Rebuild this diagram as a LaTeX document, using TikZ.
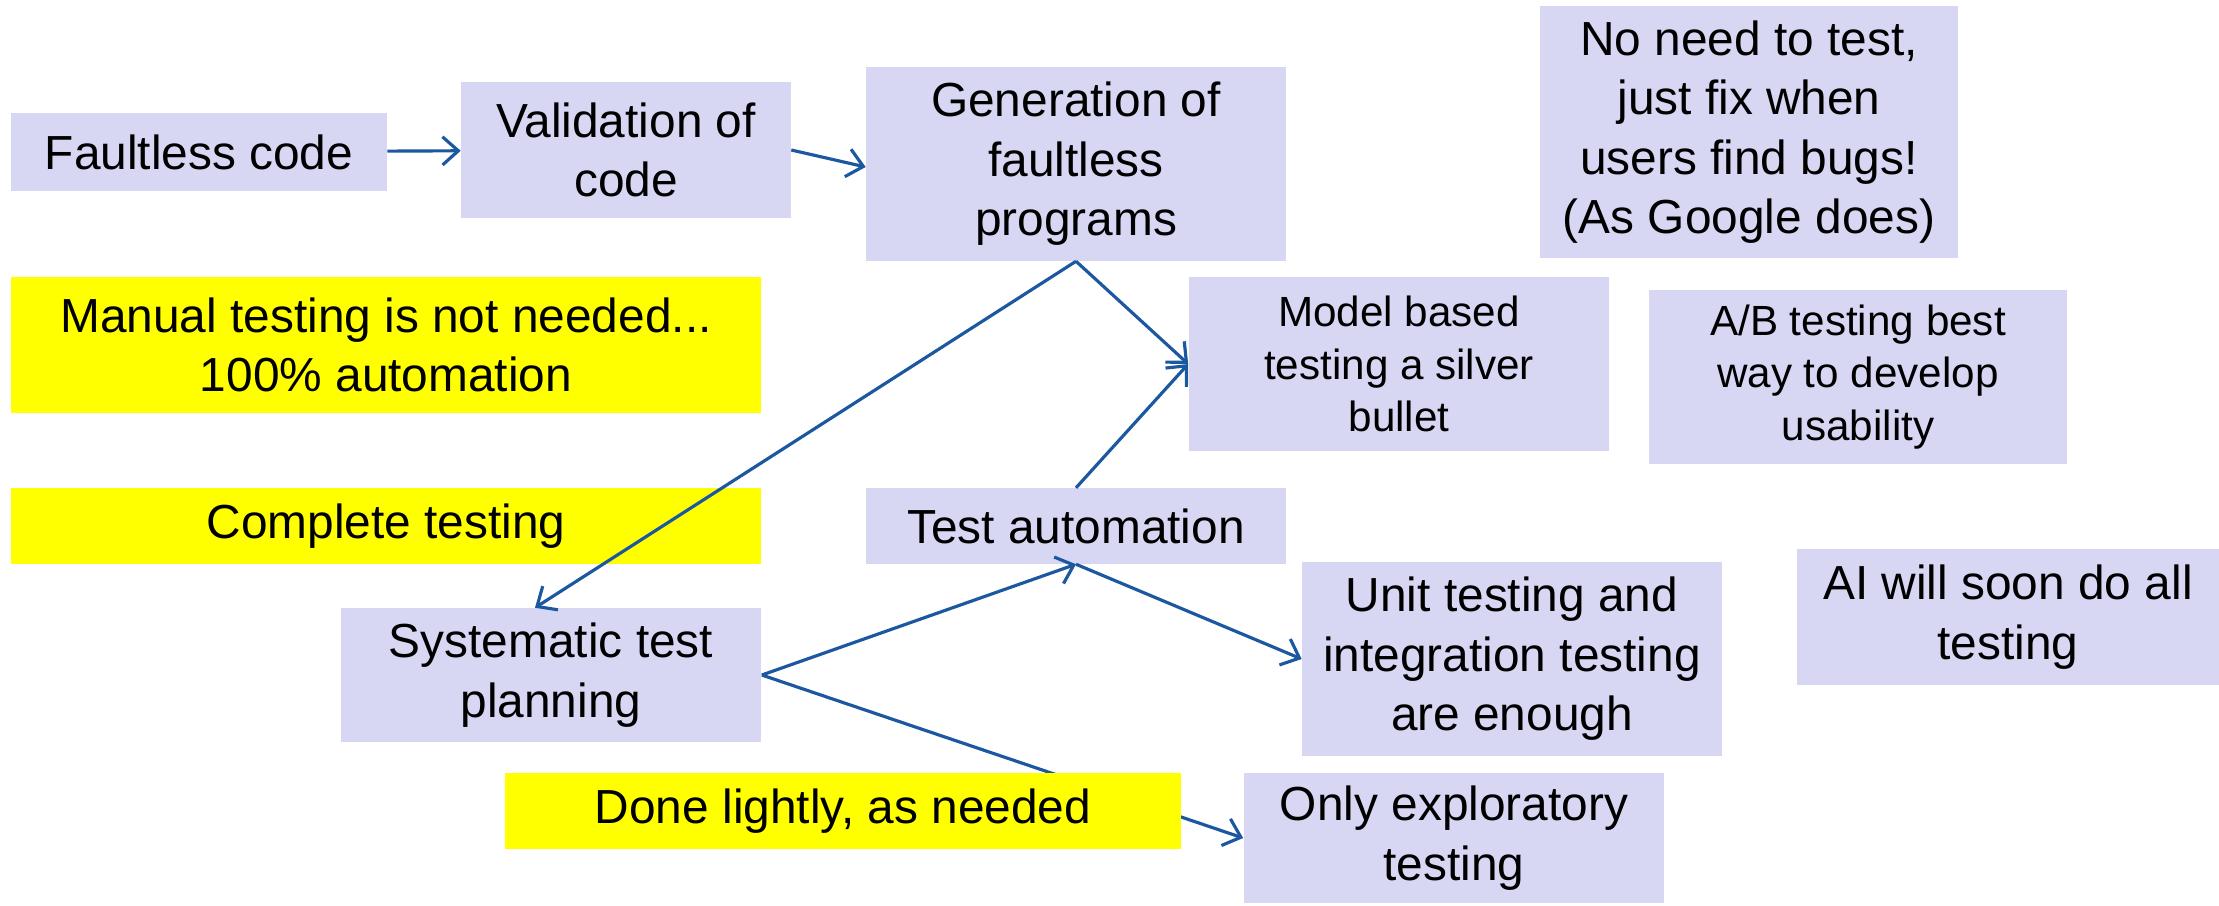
\documentclass[tikz,border=0pt]{standalone}
\usepackage{fontspec}
\setmainfont{Liberation Sans}
\usepackage{tikz}
\usetikzlibrary{arrows.meta}
\usetikzlibrary{positioning}

\definecolor{lav}{RGB}{215,215,244}
\definecolor{hiyellow}{RGB}{255,255,0}
\definecolor{arrowblue}{RGB}{28,88,160}

\tikzset{
    box/.style={fill=lav, inner sep=0pt, align=center, font=\fontsize{13.6pt}{16.9pt}\selectfont},
    smallbox/.style={box, font=\fontsize{12pt}{15pt}\selectfont},
    hibox/.style={box, fill=hiyellow},
    link/.style={draw=arrowblue, line width=0.9pt, -{Straight Barb[length=4.5pt,width=8pt]}}
}

\begin{document}
\begin{tikzpicture}[x=0.01cm, y=-0.01cm]
    \useasboundingbox (0, 0) rectangle (2219, 905);

    \node[box, minimum width=3.75cm, minimum height=0.77cm] (fault) at (199, 152) {Faultless code};
    \node[box, minimum width=3.29cm, minimum height=1.36cm] (valid) at (626, 150) {Validation of\\code};
    \node[box, minimum width=4.19cm, minimum height=1.93cm] (gen) at (1076, 164) {Generation of\\faultless\\programs};
    \node[box, minimum width=4.17cm, minimum height=2.52cm] (noneed) at (1749, 132) {No need to test,\\just fix when\\users find bugs!\\(As Google does)};
    \node[hibox, minimum width=7.50cm, minimum height=1.35cm] (manual) at (386, 345) {Manual testing is not needed...\\100\% automation};
    \node[smallbox, minimum width=4.20cm, minimum height=1.74cm] (model) at (1399, 364) {Model based\\testing a silver\\bullet};
    \node[smallbox, minimum width=4.18cm, minimum height=1.73cm] (ab) at (1858, 377) {A/B testing best\\way to develop\\usability};
    \node[hibox, minimum width=7.50cm, minimum height=0.75cm] (complete) at (386, 526) {Complete testing};
    \node[box, minimum width=4.19cm, minimum height=0.75cm] (auto) at (1076, 526) {Test automation};
    \node[box, minimum width=4.22cm, minimum height=1.36cm] (ai) at (2008, 617) {AI will soon do all\\testing};
    \node[box, minimum width=4.20cm, minimum height=1.33cm] (sys) at (551, 675) {Systematic test\\planning};
    \node[box, minimum width=4.19cm, minimum height=1.94cm] (unit) at (1512, 659) {Unit testing and\\integration testing\\are enough};
    \node[box, minimum width=4.20cm, minimum height=1.30cm] (explor) at (1454, 838) {Only exploratory\\testing};

    \draw[link] (fault) -- (valid);
    \draw[link] (valid.east) -- ([yshift=-0.03cm]gen.west);
    \draw[link] (gen.south) -- (model.west);
    \draw[link] (gen.south) -- ([xshift=-0.16cm]sys.north);
    \draw[link] (auto.north) -- (model.west);
    \draw[link] (sys.east) -- (auto.south);
    \draw[link] (auto.south) -- (unit.west);
    \draw[link] (sys.east) -- (explor.west);

    % drawn last, it covers the line under it
    \node[hibox, minimum width=6.75cm, minimum height=0.76cm] (done) at (843, 811) {Done lightly, as needed};
\end{tikzpicture}
\end{document}
